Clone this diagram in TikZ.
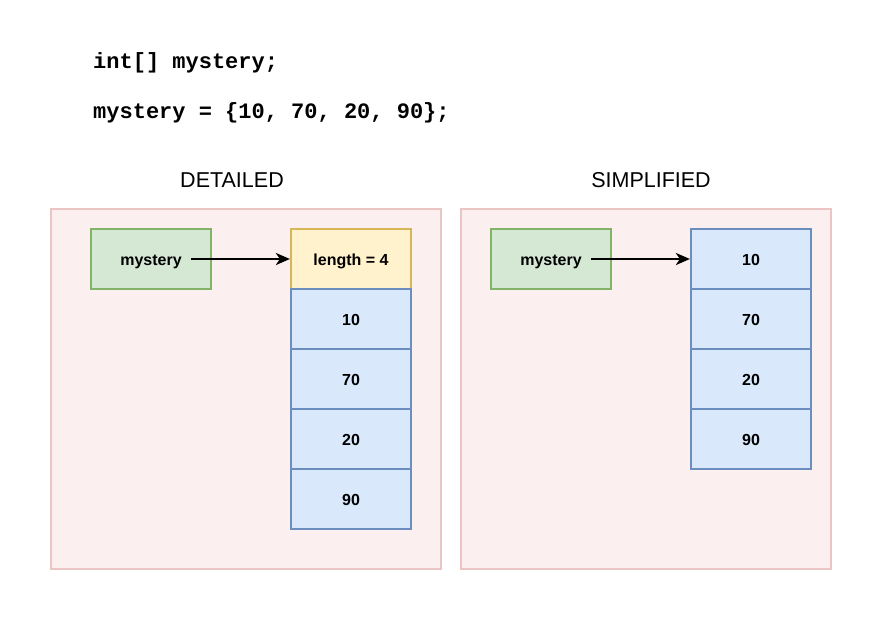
\documentclass[tikz,border=0pt]{standalone}
\usepackage{fontspec}
\setmainfont{Liberation Sans}
\newfontfamily\codefont{Liberation Mono}
\usetikzlibrary{arrows.meta}

\definecolor{frameFill}{HTML}{FBEFEF}
\definecolor{frameLine}{HTML}{EBC4C4}
\definecolor{varFill}{HTML}{D5E8D4}
\definecolor{varLine}{HTML}{82B366}
\definecolor{lenFill}{HTML}{FFF2CC}
\definecolor{lenLine}{HTML}{D6B656}
\definecolor{cellFill}{HTML}{DAE8FC}
\definecolor{cellLine}{HTML}{6C8EBF}

\begin{document}
\begin{tikzpicture}
    [   x=1pt, y=-1pt,
        frame/.style={draw=frameLine,fill=frameFill,line width=2pt},
        bnode/.style={draw=#1Line,fill=#1Fill,line width=2.2pt,minimum width=120pt,minimum height=60pt,
            inner sep=0pt,text height=12pt,text depth=0pt,font=\fontsize{16}{19}\selectfont\bfseries},
        code/.style={anchor=west,inner sep=0pt,font=\codefont\fontsize{22}{26}\selectfont\bfseries},
        title/.style={inner sep=0pt,font=\fontsize{21.5}{26}\selectfont},
        ptr/.style={-{Stealth[length=14pt,width=12pt,inset=4pt]},line width=2.8pt,shorten <=40pt},
    ]
        \useasboundingbox (0,0) rectangle (883,621);
        \node[code] (decl) at (93,63) {int[] mystery;};
        \node[code] (init) at (93,113) {mystery = \{10, 70, 20, 90\};};
        \node[title] (t-det) at (232,180) {DETAILED};
        \node[title] (t-simp) at (651,180) {SIMPLIFIED};
        % containers
        \draw[frame] (51,209) rectangle (441,569);
        \draw[frame] (461,209) rectangle (831,569);
        % detailed view
        \node[bnode=var] (var-d) at (151,259) {mystery};
        \node[bnode=len] (len) at (351,259) {length = 4};
        \foreach \v [count=\i] in {10,70,20,90}
        {   \node[bnode=cell] (d-\i) at (351,{259+60*\i}) {\v};
        }
        \draw[ptr] (var-d.center) -- (len.west);
        % simplified view
        \node[bnode=var] (var-s) at (551,259) {mystery};
        \foreach \v [count=\i] in {10,70,20,90}
        {   \node[bnode=cell] (s-\i) at (751,{199+60*\i}) {\v};
        }
        \draw[ptr] (var-s.center) -- (s-1.west);
    \end{tikzpicture}
\end{document}
